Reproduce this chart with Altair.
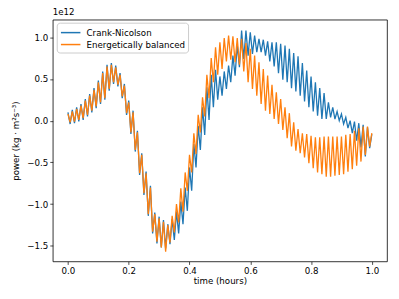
import altair as alt
import pandas as pd

N_STEPS = 140
time_hours = [i / N_STEPS for i in range(N_STEPS + 1)]

crank_nicolson = [
    .10, -.04, .13, -.03, .16, -.01, .20, .01, .26, .05,
    .32, .10, .39, .15, .48, .20, .59, .25, .67, .36,
    .69, .44, .66, .41, .57, .27, .44, .07, .24, -.16,
    .12, -.37, -.12, -.65, -.39, -.89, -.61, -1.14, -.78, -1.35,
    -1.10, -1.47, -1.15, -1.52, -1.19, -1.53, -1.24, -1.48, -1.18, -1.43,
    -1.09, -1.35, -.97, -1.24, -.80, -1.08, -.56, -.84, -.28, -.56,
    -.06, -.35, .16, -.17, .40, .01, .55, .16, .61, .25,
    .53, .30, .59, .38, .66, .46, .78, .54, .91, .64,
    1.08, .74, 1.08, .78, 1.06, .80, 1.02, .82, .98, .82,
    .97, .78, .95, .71, .94, .65, .94, .57, .92, .49,
    .90, .46, .86, .39, .81, .35, .77, .30, .69, .23,
    .60, .16, .53, .11, .46, .06, .39, .02, .33, .02,
    .22, .04, .16, .02, .11, .00, .08, -.04, .04, -.09,
    .00, -.15, -.01, -.24, -.03, -.32, -.05, -.43, -.08, -.33,
    -.16,
]

energetically_balanced = [
    .08, -.02, .11, -.01, .14, .01, .18, .03, .24, .07,
    .30, .12, .37, .17, .46, .22, .57, .27, .65, .38,
    .67, .46, .64, .43, .55, .29, .42, .09, .22, -.14,
    .10, -.35, -.14, -.63, -.41, -.87, -.63, -1.12, -.80, -1.33,
    -1.12, -1.45, -1.17, -1.52, -1.21, -1.57, -1.25, -1.46, -1.14, -1.34,
    -1.00, -1.22, -.81, -1.09, -.62, -.84, -.41, -.62, -.15, -.40,
    .07, -.14, .28, .05, .55, .27, .75, .46, .88, .55,
    .94, .62, .99, .71, 1.02, .73, 1.01, .70, .99, .67,
    .98, .59, .93, .46, .86, .38, .78, .30, .70, .20,
    .62, .12, .54, .08, .43, .02, .34, -.04, .26, -.11,
    .16, -.21, .09, -.31, -.02, -.36, -.10, -.39, -.15, -.44,
    -.16, -.51, -.18, -.57, -.20, -.62, -.20, -.64, -.19, -.67,
    -.19, -.67, -.19, -.66, -.19, -.65, -.19, -.64, -.17, -.61,
    -.16, -.58, -.12, -.54, -.09, -.49, -.07, -.41, -.07, -.31,
    -.15,
]

series_names = ["Crank-Nicolson", "Energetically balanced"]
series_colors = ["#1f77b4", "#ff7f0e"]
x_ticks = [0.0, 0.2, 0.4, 0.6, 0.8, 1.0]
y_ticks = [-1.5, -1.0, -0.5, 0.0, 0.5, 1.0]

rows = []
for name, vals in zip(series_names, [crank_nicolson, energetically_balanced]):
    for t, v in zip(time_hours, vals):
        rows.append({"time": t, "power": v, "series": name})
df = pd.DataFrame(rows)

FONT = "DejaVu Sans"
FS = 8.7

x_enc = alt.X("time:Q", scale=alt.Scale(domain=[-0.05, 1.05], nice=False, zero=False),
              axis=alt.Axis(values=x_ticks, format=".1f", title="time (hours)"))
y_enc = alt.Y("power:Q", scale=alt.Scale(domain=[-1.686, 1.21], nice=False, zero=False),
              axis=alt.Axis(values=y_ticks, title="power (kg · m²s⁻³)",
                            labelExpr="replace(format(datum.value, '.1f'), '-', '\u2212')"))
color_enc = alt.Color("series:N",
                      scale=alt.Scale(domain=series_names, range=series_colors),
                      legend=alt.Legend(title=None, orient="none", legendX=4, legendY=3))

layers = []
for name in series_names:
    layers.append(
        alt.Chart(df).transform_filter(alt.datum.series == name)
        .mark_line(strokeWidth=1.3)
        .encode(x=x_enc, y=y_enc, color=color_enc, order="time:Q")
    )

chart = alt.layer(*layers).properties(
    width=336, height=243,
    autosize=alt.AutoSizeParams(type="none"),
    padding={"left": 45, "top": 11, "right": 4, "bottom": 30},
    title=alt.TitleParams("1e12", anchor="start", frame="group", fontSize=FS,
                          font=FONT, fontWeight="normal", offset=3, color="black"),
).configure_view(stroke="black", strokeWidth=0.8).configure_axis(
    domain=False, grid=False, tickColor="black", tickSize=3, tickWidth=0.7,
    labelFont=FONT, labelFontSize=FS, labelColor="black", labelPadding=2,
    titleFont=FONT, titleFontSize=FS, titleFontWeight="normal", titleColor="black",
).configure_axisX(titlePadding=2).configure_axisY(titlePadding=6).configure_legend(
    fillColor="white", strokeColor="#cccccc", cornerRadius=3, padding=3,
    symbolType="M-1.6,0H1.6", symbolSize=150, symbolStrokeWidth=1.5, symbolOffset=4,
    labelFont=FONT, labelFontSize=FS, labelColor="black", labelOffset=9, rowPadding=0,
)

chart.save("out.html", embed_options={"renderer": "svg", "actions": False})
